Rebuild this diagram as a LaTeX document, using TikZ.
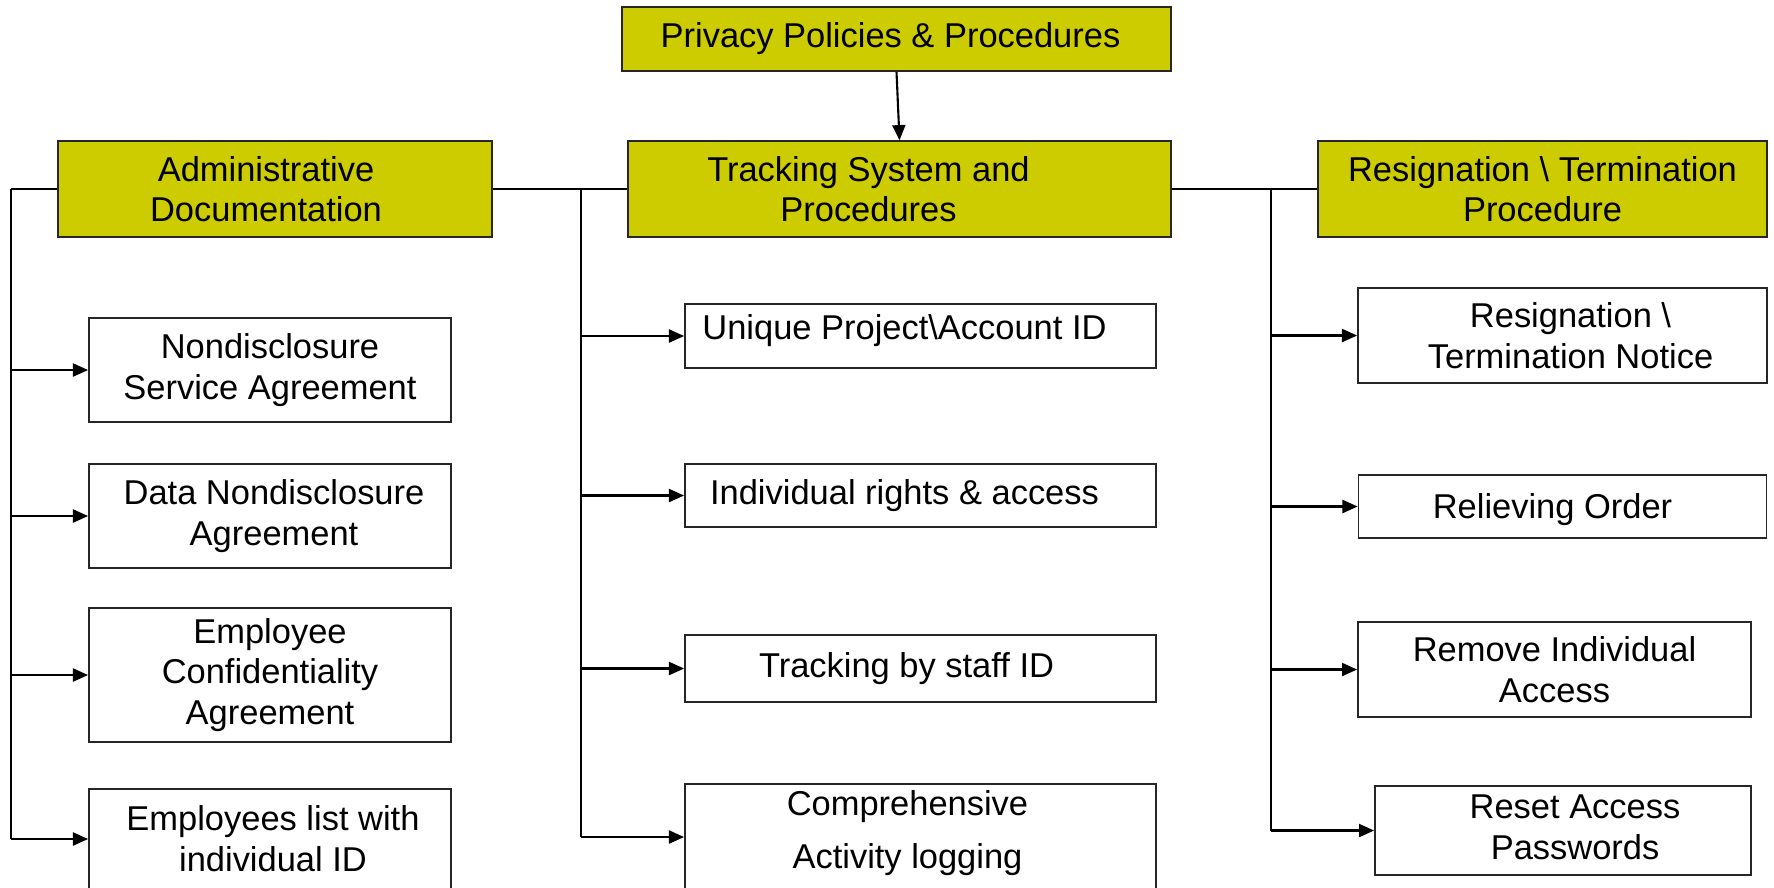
\documentclass[tikz,border=0pt]{standalone}
\usepackage{fontspec}
\setmainfont{Liberation Sans}
\usetikzlibrary{arrows.meta}
\definecolor{headyellow}{RGB}{204,204,0}

\begin{document}
\begin{tikzpicture}[x=0.01cm,y=-0.01cm,>={Triangle[length=4.3pt,width=3.7pt]},
	line width=0.6pt,
	]

	\tikzset{head box/.style={
				draw=black!85,fill=headyellow,line width=0.45pt,
				inner sep=0pt,align=center,
				font=\fontsize{9.8}{11.4}\selectfont}
	}
	\tikzset{item box/.style={
				draw=black!85,fill=white,line width=0.45pt,
				inner sep=0pt,align=center,
				font=\fontsize{9.8}{11.6}\selectfont}
	}
	\tikzset{item text/.style={
				inner sep=0pt,align=center,
				font=\fontsize{9.8}{11.6}\selectfont}
	}

	\useasboundingbox (0,0) rectangle (1774,887);

	\node[head box,minimum width=5.49cm,minimum height=0.64cm] (ppp) at (896.5,39) {};
	\node[item text] (ppptext) at ([xshift=-0.06cm]ppp.center) {Privacy Policies \& Procedures};

	\node[head box,minimum width=4.34cm,minimum height=0.96cm] (adm) at (275,189) {};
	\node[item text,font=\fontsize{9.8}{11.4}\selectfont] (admtext) at ([xshift=-0.09cm]adm.center) {Administrative\\Documentation};
	\node[head box,minimum width=5.43cm,minimum height=0.96cm] (trk) at (899.5,189) {};
	\node[item text,font=\fontsize{9.8}{11.4}\selectfont] (trktext) at ([xshift=-0.31cm]trk.center) {Tracking System and\\Procedures};
	\node[head box,minimum width=4.49cm,minimum height=0.96cm] (res) at (1542.5,189) {Resignation \textbackslash{} Termination\\Procedure};

	\draw[->] (ppp.south) -- (trk.north);

	% left column
	\node[item box,minimum width=3.62cm,minimum height=1.04cm] (nsa) at (270,370) {Nondisclosure\\Service Agreement};
	\node[item box,minimum width=3.62cm,minimum height=1.04cm] (dna) at (270,516) {};
	\node[item text] (dnatext) at ([xshift=0.04cm]dna.center) {Data Nondisclosure\\Agreement};
	\node[item box,minimum width=3.62cm,minimum height=1.34cm] (eca) at (270,675) {Employee\\Confidentiality\\Agreement};
	\node[item box,minimum width=3.62cm,minimum height=1.00cm] (eli) at (270,839) {};
	\node[item text] (elitext) at ([xshift=0.03cm]eli.center) {Employees list with\\individual ID};

	% middle column
	\node[item box,minimum width=4.71cm,minimum height=0.64cm] (upa) at (920.5,336) {};
	\node[item text] (upatext) at ([xshift=-0.16cm,yshift=0.05cm]upa.center) {Unique Project\textbackslash Account ID};
	\node[item box,minimum width=4.71cm,minimum height=0.63cm] (ira) at (920.5,495.5) {};
	\node[item text] (iratext) at ([xshift=-0.16cm]ira.center) {Individual rights \& access};
	\node[item box,minimum width=4.71cm,minimum height=0.67cm] (tsi) at (920.5,668.5) {};
	\node[item text] (tsitext) at ([xshift=-0.14cm]tsi.center) {Tracking by staff ID};
	\node[item box,minimum width=4.71cm,minimum height=1.06cm] (cal) at (920.5,837) {};
	\node[item text,font=\fontsize{9.8}{15}\selectfont] (caltext) at ([xshift=-0.13cm,yshift=0.04cm]cal.center) {Comprehensive\\Activity logging};

	% right column
	\node[item box,minimum width=4.09cm,minimum height=0.95cm] (rtn) at (1562.5,335.5) {};
	\node[item text] (rtntext) at ([xshift=0.08cm]rtn.center) {Resignation \textbackslash\\Termination Notice};
	\node[item box,minimum width=4.08cm,minimum height=0.63cm] (rlo) at (1562.5,506.5) {};
	\node[item text] (rlotext) at ([xshift=-0.10cm,yshift=-0.03cm]rlo.center) {Relieving Order};
	\node[item box,minimum width=3.93cm,minimum height=0.95cm] (ria) at (1554.5,669.5) {Remove Individual\\Access};
	\node[item box,minimum width=3.76cm,minimum height=0.89cm] (rap) at (1563,830.5) {};
	\node[item text] (raptext) at ([xshift=0.12cm,yshift=0.03cm]rap.center) {Reset Access\\Passwords};

	% trunks
	\coordinate (ltrunk) at (11,189);
	\coordinate (mtrunk) at (581,189);
	\coordinate (rtrunk) at (1271,189);

	\draw (ltrunk) -- (adm.west);
	\draw (adm.east) -- (trk.west);
	\draw (trk.east) -- (res.west);

	\draw (ltrunk) -- (ltrunk |- eli.west);
	\draw (mtrunk) -- (mtrunk |- cal.west);
	\draw (rtrunk) -- (rtrunk |- rap.west);

	\draw[->] (ltrunk |- nsa.west) -- (nsa.west);
	\draw[->] (ltrunk |- dna.west) -- (dna.west);
	\draw[->] (ltrunk |- eca.west) -- (eca.west);
	\draw[->] (ltrunk |- eli.west) -- (eli.west);

	\draw[->] (mtrunk |- upa.west) -- (upa.west);
	\draw[->] (mtrunk |- ira.west) -- (ira.west);
	\draw[->] (mtrunk |- tsi.west) -- (tsi.west);
	\draw[->] (mtrunk |- cal.west) -- (cal.west);

	\draw[->] (rtrunk |- rtn.west) -- (rtn.west);
	\draw[->] (rtrunk |- rlo.west) -- (rlo.west);
	\draw[->] (rtrunk |- ria.west) -- (ria.west);
	\draw[->] (rtrunk |- rap.west) -- (rap.west);

\end{tikzpicture}
\end{document}
